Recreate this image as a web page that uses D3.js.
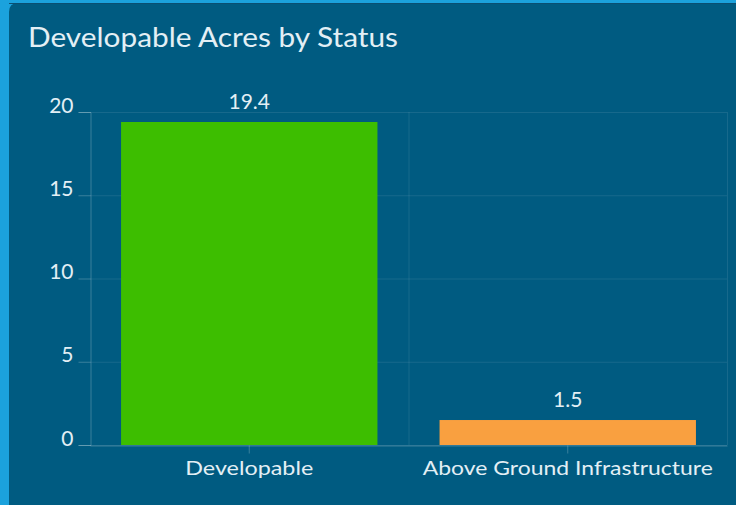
<!DOCTYPE html>
<html><head><meta charset="utf-8">
<script src="https://cdn.jsdelivr.net/npm/d3@7"></script>
<style>
html,body{margin:0;padding:0;background:#005b81;}
svg{display:block;}
</style></head>
<body>
<svg id="chart" width="736" height="505"></svg>
<script>
const title = "Developable Acres by Status";
const categories = ["Developable", "Above Ground Infrastructure"];
const values = [19.4, 1.5];
const barColors = ["#3dbe00", "#f9a040"];
const yTicks = [0, 5, 10, 15, 20];
const categoryLabelWidths = [128, 290];

const W = 736, H = 505;
const svg = d3.select("#chart");
const font = "Lato, 'Open Sans', sans-serif";
const textColor = "#e3eff5";

// frame
svg.append("rect").attr("x",0).attr("y",0).attr("width",W).attr("height",H).attr("fill","#1ba2dd");
svg.append("path")
  .attr("d", `M9,12 Q9,3 18,3 L${W},3 L${W},${H} L9,${H} Z`)
  .attr("fill","#005b81");
svg.append("line").attr("x1",9).attr("x2",W).attr("y1",3.5).attr("y2",3.5).attr("stroke","#0a4f72").attr("stroke-width",1);

svg.append("text").attr("x",28).attr("y",47).text(title)
  .attr("font-family",font).attr("font-size",26).attr("fill",textColor)
  .attr("textLength",370).attr("lengthAdjust","spacingAndGlyphs");

const m = {left:90, right:9, top:112, bottom:60};
const x = d3.scaleBand().domain(categories).range([m.left, W - m.right]).paddingInner(0.195).paddingOuter(0.0975);
const y = d3.scaleLinear().domain([0,20]).range([H - m.bottom, m.top]);

const g = svg.append("g");
const gridColor = "rgba(255,255,255,0.09)";

g.selectAll(".hg").data(yTicks).join("line")
  .attr("x1", m.left).attr("x2", W - m.right)
  .attr("y1", d => y(d)+0.5).attr("y2", d => y(d)+0.5)
  .attr("stroke", gridColor);

const step = x.step();
const bounds = categories.map((c,i) => m.left + step*(i+1));
g.selectAll(".vg").data(bounds).join("line")
  .attr("x1", d => d+0.5).attr("x2", d => d+0.5)
  .attr("y1", y(20)).attr("y2", y(0))
  .attr("stroke", gridColor);

g.selectAll(".bar").data(values).join("rect")
  .attr("x", (d,i) => x(categories[i]))
  .attr("width", x.bandwidth())
  .attr("y", d => y(d))
  .attr("height", d => y(0) - y(d))
  .attr("fill", (d,i) => barColors[i]);

// y axis
const yAxis = d3.axisLeft(y).tickValues(yTicks).tickSize(12).tickPadding(5);
const ya = svg.append("g").attr("transform", `translate(${m.left+0.5},0)`).call(yAxis);
ya.select(".domain").attr("stroke","rgba(255,255,255,0.22)");
ya.selectAll(".tick line").attr("stroke","rgba(255,255,255,0.22)");
ya.selectAll(".tick text").attr("fill",textColor).attr("font-family",font).attr("font-size",21)
  .attr("dy","0");

// x axis
const xAxis = d3.axisBottom(x).tickSize(8).tickPadding(10).tickSizeOuter(0);
const xa = svg.append("g").attr("transform", `translate(0,${y(0)+0.5})`).call(xAxis);
xa.select(".domain").attr("stroke","rgba(255,255,255,0.22)");
xa.selectAll(".tick line").attr("stroke","rgba(255,255,255,0.22)");
xa.selectAll(".tick text").attr("fill",textColor).attr("font-family",font).attr("font-size",20)
  .attr("dy","0").attr("y",29)
  .attr("textLength",(d,i) => categoryLabelWidths[i]).attr("lengthAdjust","spacingAndGlyphs");

// value labels
g.selectAll(".val").data(values).join("text")
  .attr("x", (d,i) => x(categories[i]) + x.bandwidth()/2)
  .attr("y", d => y(d) - 13)
  .attr("text-anchor","middle")
  .attr("font-family",font).attr("font-size",21).attr("fill",textColor)
  .text(d => d.toFixed(1));
</script>
</body></html>
